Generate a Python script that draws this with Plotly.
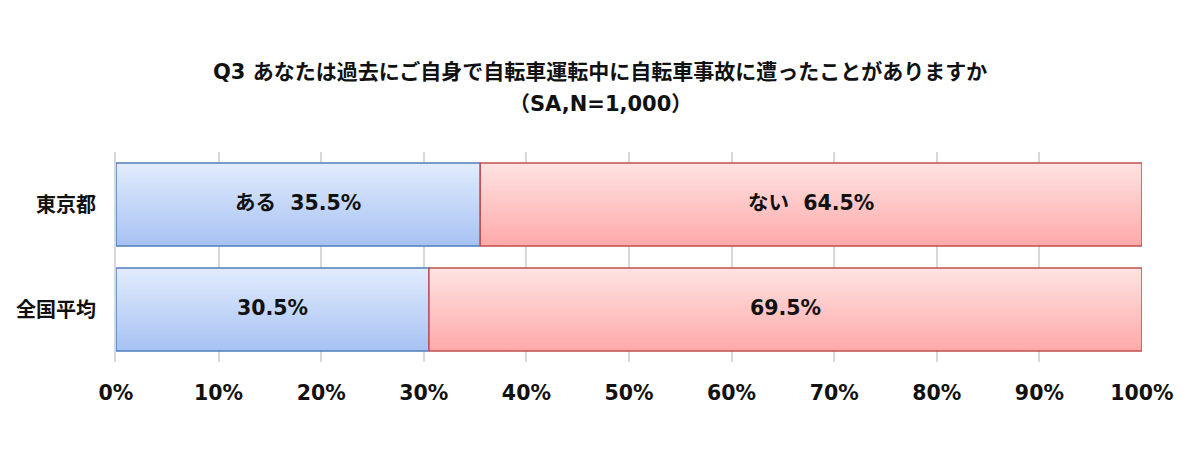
import plotly.graph_objects as go

categories = ["東京都", "全国平均"]
yes_values = [35.5, 30.5]
no_values = [64.5, 69.5]
yes_labels = ["ある  35.5%", "30.5%"]
no_labels = ["ない  64.5%", "69.5%"]
tick_vals = [0, 10, 20, 30, 40, 50, 60, 70, 80, 90, 100]
tick_text = [f"{v}%" for v in tick_vals]

title_line1 = "Q3 あなたは過去にご自身で自転車運転中に自転車事故に遭ったことがありますか"
title_line2 = "（SA,N=1,000）"

FONT = "DejaVu Sans, Noto Sans CJK JP"
blue_top, blue_bot, blue_line = "#e2ecfd", "#a6c2f3", "#4f7fba"
red_top, red_bot, red_line = "#ffe3e3", "#ffa9a9", "#c0504d"

# page body has an 8px default margin; compensate so the plot lands where the reference has it
OFF = 8
W, H = 1200, 450
ML, MR, MT, MB = 116 - OFF, 58 + OFF, 152 - OFF, 88 + OFF
PW, PH = W - ML - MR, H - MT - MB

half = 0.395
ypos = [1, 0]

fig = go.Figure()


def add_rect(x0, x1, yc, top, bot, line):
    fig.add_trace(go.Scatter(
        x=[x0, x1, x1, x0, x0],
        y=[yc - half, yc - half, yc + half, yc + half, yc - half],
        mode="lines",
        fill="toself",
        fillgradient=dict(type="vertical", colorscale=[[0, bot], [1, top]]),
        line=dict(color=line, width=1.5),
        hoverinfo="skip",
        showlegend=False,
    ))


for i, cat in enumerate(categories):
    add_rect(0, yes_values[i], ypos[i], blue_top, blue_bot, blue_line)
    add_rect(yes_values[i], yes_values[i] + no_values[i], ypos[i], red_top, red_bot, red_line)

fig.add_trace(go.Scatter(
    x=[v / 2 for v in yes_values] + [y + n / 2 for y, n in zip(yes_values, no_values)],
    y=ypos + ypos,
    mode="text",
    text=yes_labels + no_labels,
    textfont=dict(family=FONT, size=20.5, color="#111111", weight="bold"),
    hoverinfo="skip",
    showlegend=False,
))

title_x = (W / 2 - OFF - ML) / PW
for txt, py in [(title_line1, 72), (title_line2, 104)]:
    fig.add_annotation(
        text=f"<b>{txt}</b>", x=title_x, xref="paper", xanchor="center",
        y=(H - MB - (py - OFF)) / PH, yref="paper", yanchor="middle", showarrow=False,
        font=dict(family=FONT, size=21, color="#111111"),
    )

fig.update_layout(
    width=W,
    height=H,
    paper_bgcolor="white",
    plot_bgcolor="white",
    margin=dict(l=ML, r=MR, t=MT, b=MB),
    font=dict(family=FONT),
    showlegend=False,
)
fig.update_xaxes(
    range=[0, 100],
    tickvals=tick_vals,
    ticktext=tick_text,
    showgrid=True,
    gridcolor="#d9d9d9",
    gridwidth=1.5,
    zeroline=False,
    showline=False,
    ticks="",
    automargin=False,
    ticklabelstandoff=16,
    tickfont=dict(family=FONT, size=20.5, color="#111111", weight="bold"),
)
fig.update_yaxes(
    range=[-0.5, 1.5],
    tickvals=ypos,
    ticktext=categories,
    showgrid=False,
    zeroline=False,
    showline=True,
    linecolor="#d9d9d9",
    linewidth=2,
    ticks="",
    automargin=False,
    ticklabelstandoff=14,
    tickfont=dict(family=FONT, size=20, color="#111111", weight="bold"),
)

fig.write_html("out.html")
